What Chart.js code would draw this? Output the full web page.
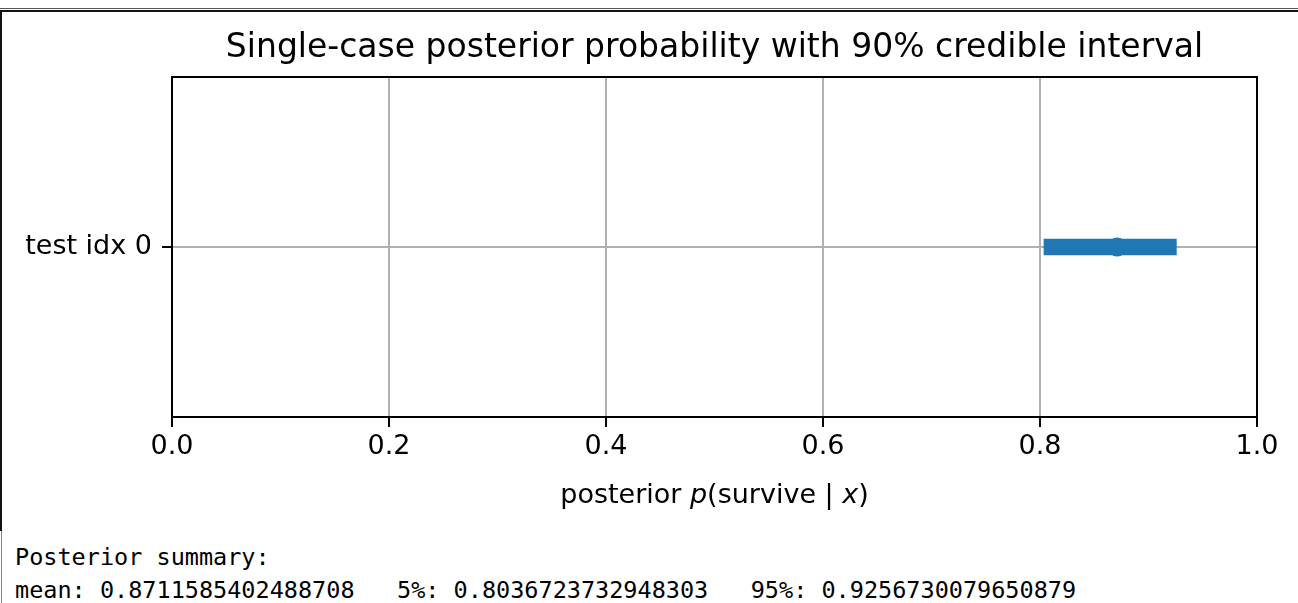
<!DOCTYPE html>
<html>
<head>
<meta charset="utf-8">
<script src="https://cdn.jsdelivr.net/npm/chart.js@4.4.1/dist/chart.umd.min.js"></script>
<style>
  html, body { margin: 0; padding: 0; background: #fff; }
  body { width: 1298px; height: 603px; position: relative; overflow: hidden; }
  .line-top1 { position: absolute; left: 0; top: 8px; width: 1298px; height: 1px; background: #555; }
  .line-top2 { position: absolute; left: 0; top: 10px; width: 1298px; height: 2px; background: #111; }
  .line-left { position: absolute; left: 0; top: 10px; width: 2px; height: 521px; background: #111; }
  .line-left2 { position: absolute; left: 1px; top: 531px; width: 1px; height: 72px; background: #888; }
  #output {
    position: absolute; left: 15px; top: 541px; margin: 0;
    font-family: "DejaVu Sans Mono", monospace; font-size: 23.5px; line-height: 33px;
    color: #000; white-space: pre;
  }
</style>
</head>
<body>
<canvas id="postChart" width="1298" height="532"></canvas>
<div class="line-top1"></div>
<div class="line-top2"></div>
<div class="line-left"></div>
<div class="line-left2"></div>
<pre id="output"></pre>

<script>
// data
const caseLabels = ['test idx 0'];
const postMean = [0.8711585402488708];
const postLow = [0.8036723732948303];   // 5%
const postHigh = [0.9256730079650879];  // 95%
const xTicks = [0.0, 0.2, 0.4, 0.6, 0.8, 1.0];

const blue = '#1f77b4';
const fontFam = '"DejaVu Sans", sans-serif';
const titleText = 'Single-case posterior probability with 90% credible interval';

// summary text under the figure
document.getElementById('output').textContent =
  'Posterior summary:\n' +
  'mean: ' + postMean[0] + '   5%: ' + postLow[0] + '   95%: ' + postHigh[0];

// frame round the plot (matplotlib spines)
const framePlugin = {
  id: 'frame',
  afterDraw(chart) {
    const { ctx, chartArea: a } = chart;
    ctx.save();
    ctx.strokeStyle = '#000';
    ctx.lineWidth = 2;
    ctx.strokeRect(a.left, a.top, a.right - a.left, a.bottom - a.top);
    ctx.restore();
  }
};

// title centred over the axes, and x label with italic p and x
const textPlugin = {
  id: 'texts',
  afterDraw(chart) {
    const { ctx, chartArea: a } = chart;
    const mid = (a.left + a.right) / 2;
    ctx.save();
    ctx.fillStyle = '#000';

    ctx.font = '33px ' + fontFam;
    ctx.textAlign = 'center';
    ctx.textBaseline = 'alphabetic';
    ctx.fillText(titleText, mid, 57);

    const parts = [
      ['posterior ', false],
      ['p', true],
      ['(survive | ', false],
      ['x', true],
      [')', false]
    ];
    ctx.textAlign = 'left';
    let total = 0;
    parts.forEach(p => {
      ctx.font = (p[1] ? 'italic ' : '') + '27px ' + fontFam;
      total += ctx.measureText(p[0]).width;
    });
    let x = mid - total / 2;
    parts.forEach(p => {
      ctx.font = (p[1] ? 'italic ' : '') + '27px ' + fontFam;
      ctx.fillText(p[0], x, 503);
      x += ctx.measureText(p[0]).width;
    });
    ctx.restore();
  }
};

const ctx = document.getElementById('postChart').getContext('2d');

const chart = new Chart(ctx, {
  type: 'bar',
  data: {
    labels: caseLabels,
    datasets: [
      {
        type: 'bar',
        indexAxis: 'y',
        data: caseLabels.map((c, i) => [postLow[i], postHigh[i]]),
        backgroundColor: blue,
        borderWidth: 0,
        barThickness: 16
      },
      {
        type: 'scatter',
        data: caseLabels.map((c, i) => ({ x: postMean[i], y: c })),
        backgroundColor: blue,
        borderWidth: 0,
        pointRadius: 9.5
      }
    ]
  },
  options: {
    responsive: false,
    animation: false,
    layout: { padding: { left: 0, right: 41, top: 77, bottom: 0 } },
    plugins: {
      legend: { display: false },
      tooltip: { enabled: false },
      title: { display: false }
    },
    scales: {
      x: {
        type: 'linear',
        min: 0,
        max: 1,
        offset: false,
        afterFit: s => { s.height = 115; },
        afterBuildTicks: s => { s.ticks = xTicks.map(v => ({ value: v })); },
        ticks: {
          color: '#000',
          padding: 4,
          maxRotation: 0,
          font: { family: fontFam, size: 27 },
          callback: v => Number(v).toFixed(1)
        },
        grid: {
          offset: false,
          color: c => (c.tick && (c.tick.value === 0 || c.tick.value === 1)) ? 'rgba(0,0,0,0)' : '#b0b0b0',
          lineWidth: 2,
          tickColor: '#000',
          tickLength: 10
        },
        border: { display: false }
      },
      y: {
        type: 'category',
        offset: true,
        afterFit: s => { s.width = 172; },
        ticks: {
          color: '#000',
          padding: 10,
          font: { family: fontFam, size: 27 }
        },
        grid: {
          offset: false,
          color: '#b0b0b0',
          lineWidth: 2,
          tickColor: '#000',
          tickLength: 10
        },
        border: { display: false }
      }
    }
  },
  plugins: [framePlugin, textPlugin]
});
</script>
</body>
</html>
